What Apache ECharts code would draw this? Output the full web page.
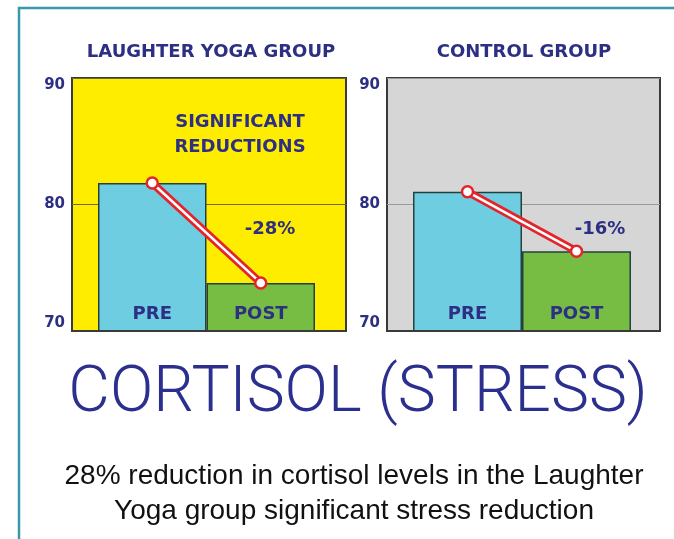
<!DOCTYPE html>
<html>
<head>
<meta charset="utf-8">
<script src="https://cdn.jsdelivr.net/npm/echarts@6/dist/echarts.min.js"></script>
<style>
  html, body { margin: 0; padding: 0; background: #fff; }
  #chart { width: 674px; height: 539px; }
</style>
</head>
<body>
<div id="chart"></div>
<script>
// values
const groups = ['LAUGHTER YOGA GROUP', 'CONTROL GROUP'];
const phases = ['PRE', 'POST'];
const yogaValues = [81.7, 73.8];
const controlValues = [81.0, 76.3];
const changeLabels = ['-28%', '-16%'];
const yMin = 70, yMax = 90, yStep = 10;

const NAVY = '#2c2f82';
const BOLD = 'DejaVu Sans';
const barColors = ['#6fcde2', '#77bd44'];

const chart = echarts.init(document.getElementById('chart'));

// outer box (plot background) + inner box (bars), per panel
const panels = [
  { outer: { left: 72, right: 328, top: 78, bottom: 208 }, inner: { left: 98, width: 217, top: 78, bottom: 208 },
    bg: '#ffed00', split: '#6f6a2a', values: yogaValues },
  { outer: { left: 387, right: 14, top: 78, bottom: 208 }, inner: { left: 413, width: 218, top: 78, bottom: 208 },
    bg: '#d6d6d6', split: '#9a9a9a', values: controlValues }
];

const grid = [], xAxis = [], yAxis = [], series = [];
panels.forEach((p, i) => {
  const o = i * 2, n = i * 2 + 1;
  grid.push(Object.assign({ show: true, backgroundColor: p.bg, borderColor: '#3a3a3a', borderWidth: 2 }, p.outer));
  grid.push(Object.assign({}, p.inner));
  xAxis.push({ gridIndex: o, type: 'category', data: [''], z: 5,
    axisLine: { show: true, lineStyle: { color: '#3a3a3a', width: 2 } },
    axisTick: { show: false }, axisLabel: { show: false } });
  xAxis.push({ gridIndex: n, type: 'category', data: phases, show: false });
  yAxis.push({ gridIndex: o, type: 'value', min: yMin, max: yMax, interval: yStep,
    axisLine: { show: false }, axisTick: { show: false },
    splitLine: { lineStyle: { color: p.split, width: 1 } },
    axisLabel: { color: NAVY, fontFamily: BOLD, fontWeight: 'bold', fontSize: 15, margin: 7,
      verticalAlignMaxLabel: 'top', verticalAlignMinLabel: 'bottom' } });
  yAxis.push({ gridIndex: n, type: 'value', min: yMin, max: yMax, show: false });

  series.push({
    type: 'bar', xAxisIndex: n, yAxisIndex: n, barWidth: '100%',
    data: p.values.map((v, k) => ({ value: v, itemStyle: { color: barColors[k] } })),
    itemStyle: { borderColor: '#24413f', borderWidth: 1.5 },
    label: { show: true, position: 'insideBottom', distance: 8, formatter: '{b}',
      color: NAVY, fontFamily: BOLD, fontWeight: 'bold', fontSize: 18 },
    silent: true
  });
  series.push({
    type: 'line', xAxisIndex: n, yAxisIndex: n, data: p.values, z: 3,
    symbol: 'none', lineStyle: { color: '#e5232b', width: 8 }, silent: true
  });
  series.push({
    type: 'line', xAxisIndex: n, yAxisIndex: n, data: p.values, z: 4,
    symbol: 'circle', symbolSize: 11,
    itemStyle: { color: '#ffffff', borderColor: '#e5232b', borderWidth: 2.5 },
    lineStyle: { color: '#ffffff', width: 2.5 }, silent: true
  });
});

const txt = (x, y, text, size, extra) => ({
  type: 'text', x: x, y: y, z: 10,
  style: Object.assign({ text: text, fill: NAVY, font: 'bold ' + size + 'px "' + BOLD + '"',
    textAlign: 'center', textVerticalAlign: 'middle' }, extra || {})
});

chart.setOption({
  animation: false,
  grid: grid, xAxis: xAxis, yAxis: yAxis, series: series,
  graphic: [
    { type: 'polyline', shape: { points: [[19, 540], [19, 8], [674, 8]] },
      style: { stroke: '#3b97aa', lineWidth: 2.5, fill: null } },
    txt(211, 52, groups[0], 18),
    txt(524, 52, groups[1], 18),
    txt(240, 135, 'SIGNIFICANT\nREDUCTIONS', 18, { lineHeight: 25 }),
    txt(270, 229, changeLabels[0], 18),
    txt(600, 229, changeLabels[1], 18),
    txt(358, 395, 'CORTISOL (STRESS)', 64, { font: '300 64px Roboto', fill: '#2b2f8d' }),
    txt(354, 494, '28% reduction in cortisol levels in the Laughter\nYoga group significant stress reduction', 28,
      { font: '28px "Liberation Sans"', fill: '#111111', lineHeight: 35 })
  ]
});
</script>
</body>
</html>
